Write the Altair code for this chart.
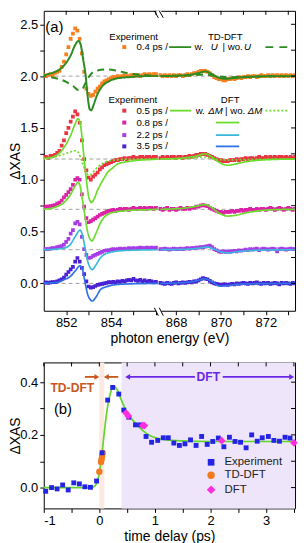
import altair as alt
import pandas as pd

FONT = "Liberation Sans"

# ====================== panel (a) data ======================
E_LEFT = [850.8, 850.9, 851.0, 851.1, 851.2, 851.3, 851.4, 851.5, 851.6, 851.7,
          851.8, 851.9, 852.0, 852.1, 852.2, 852.3, 852.4, 852.5, 852.6, 852.7,
          852.8, 852.9, 853.0, 853.1, 853.2, 853.3, 853.4, 853.5, 853.6, 853.7,
          853.8, 853.9, 854.0, 854.1, 854.2, 854.3, 854.4, 854.5, 854.6, 854.7,
          854.8, 854.9, 855.0, 855.1, 855.2, 855.3, 855.4, 855.5, 855.6, 855.7,
          855.8, 855.9, 856.0]
E_RIGHT = [867.3, 867.4, 867.5, 867.6, 867.7, 867.8, 867.9, 868.0, 868.1, 868.2,
           868.3, 868.4, 868.5, 868.6, 868.7, 868.8, 868.9, 869.0, 869.1, 869.2,
           869.3, 869.4, 869.5, 869.6, 869.7, 869.8, 869.9, 870.0, 870.1, 870.2,
           870.3, 870.4, 870.5, 870.6, 870.7, 870.8, 870.9, 871.0, 871.1, 871.2,
           871.3, 871.4, 871.5, 871.6, 871.7, 871.8, 871.9, 872.0, 872.1, 872.2,
           872.3, 872.4, 872.5, 872.6, 872.7, 872.8, 872.9, 873.0, 873.1, 873.2,
           873.3]

A04_L = [2.00, 2.00, 2.01, 2.00, 2.01, 2.02, 2.01, 2.03, 2.04, 2.05,
         2.09, 2.14, 2.21, 2.28, 2.36, 2.41, 2.46, 2.44, 2.36, 2.22,
         2.04, 1.88, 1.83, 1.81, 1.82, 1.85, 1.88, 1.90, 1.93, 1.95,
         1.96, 1.97, 1.98, 1.99, 1.99, 2.00, 1.99, 2.00, 2.01, 2.00,
         2.00, 2.01, 2.00, 2.01, 2.01, 2.00, 2.01, 2.02, 2.01, 2.02,
         2.01, 2.02, 2.02]
A04_R = [2.01, 2.00, 2.01, 2.00, 2.01, 2.00, 2.01, 2.00, 2.01, 2.01,
         2.00, 2.01, 2.02, 2.01, 2.02, 2.03, 2.03, 2.04, 2.05, 2.05,
         2.05, 2.04, 2.03, 2.01, 1.99, 1.98, 1.97, 1.97, 1.96, 1.96,
         1.97, 1.97, 1.98, 1.97, 1.98, 1.99, 1.98, 1.99, 1.99, 2.00,
         1.99, 2.00, 2.00, 1.99, 2.00, 2.01, 2.00, 2.00, 2.01, 2.00,
         2.01, 2.00, 2.01, 2.00, 2.01, 2.00, 2.01, 2.00, 2.01, 2.00,
         2.01]
A05_L = [1.21, 1.21, 1.22, 1.22, 1.21, 1.23, 1.23, 1.24, 1.26, 1.28,
         1.33, 1.38, 1.45, 1.50, 1.56, 1.61, 1.66, 1.63, 1.55, 1.38,
         1.20, 1.09, 1.02, 1.00, 1.03, 1.05, 1.07, 1.10, 1.12, 1.14,
         1.15, 1.16, 1.17, 1.18, 1.19, 1.19, 1.20, 1.20, 1.21, 1.20,
         1.21, 1.21, 1.22, 1.21, 1.21, 1.22, 1.22, 1.21, 1.22, 1.22,
         1.21, 1.22, 1.22]
A05_R = [1.21, 1.22, 1.21, 1.22, 1.21, 1.22, 1.22, 1.21, 1.22, 1.22,
         1.21, 1.22, 1.22, 1.23, 1.22, 1.23, 1.24, 1.24, 1.25, 1.25,
         1.25, 1.24, 1.23, 1.22, 1.21, 1.20, 1.19, 1.19, 1.18, 1.18,
         1.18, 1.19, 1.19, 1.19, 1.20, 1.19, 1.20, 1.20, 1.21, 1.20,
         1.21, 1.21, 1.20, 1.21, 1.22, 1.21, 1.21, 1.22, 1.21, 1.22,
         1.21, 1.22, 1.21, 1.22, 1.22, 1.21, 1.22, 1.21, 1.22, 1.21,
         1.22]
A08_L = [0.73, 0.73, 0.73, 0.74, 0.74, 0.745, 0.75, 0.755, 0.77, 0.78,
         0.80, 0.83, 0.855, 0.88, 0.91, 0.95, 1.00, 1.015, 1.00, 0.86,
         0.74, 0.63, 0.59, 0.60, 0.615, 0.63, 0.645, 0.66, 0.67, 0.68,
         0.69, 0.70, 0.705, 0.71, 0.70, 0.71, 0.72, 0.71, 0.72, 0.72,
         0.71, 0.72, 0.73, 0.72, 0.72, 0.73, 0.72, 0.73, 0.72, 0.73,
         0.73, 0.72, 0.73]
A08_R = [0.72, 0.71, 0.72, 0.73, 0.71, 0.72, 0.72, 0.71, 0.72, 0.73,
         0.72, 0.72, 0.73, 0.72, 0.73, 0.73, 0.74, 0.74, 0.75, 0.755,
         0.75, 0.745, 0.73, 0.72, 0.71, 0.70, 0.69, 0.69, 0.68, 0.69,
         0.69, 0.69, 0.70, 0.69, 0.70, 0.70, 0.71, 0.70, 0.71, 0.71,
         0.72, 0.71, 0.71, 0.72, 0.71, 0.72, 0.72, 0.71, 0.72, 0.73,
         0.72, 0.71, 0.72, 0.73, 0.72, 0.71, 0.72, 0.73, 0.72, 0.71,
         0.72]
A22_L = [0.33, 0.33, 0.33, 0.33, 0.33, 0.335, 0.34, 0.34, 0.35, 0.355,
         0.36, 0.375, 0.40, 0.43, 0.48, 0.515, 0.58, 0.595, 0.57, 0.45,
         0.33, 0.275, 0.245, 0.25, 0.265, 0.275, 0.285, 0.295, 0.305, 0.315,
         0.32, 0.32, 0.325, 0.33, 0.325, 0.33, 0.335, 0.33, 0.335, 0.33,
         0.34, 0.335, 0.34, 0.335, 0.34, 0.345, 0.34, 0.34, 0.345, 0.34,
         0.345, 0.34, 0.345]
A22_R = [0.33, 0.33, 0.335, 0.33, 0.325, 0.33, 0.335, 0.33, 0.33, 0.335,
         0.33, 0.335, 0.34, 0.335, 0.34, 0.34, 0.345, 0.345, 0.35, 0.35,
         0.355, 0.36, 0.365, 0.35, 0.33, 0.32, 0.31, 0.305, 0.31, 0.305,
         0.31, 0.305, 0.31, 0.315, 0.31, 0.32, 0.315, 0.32, 0.325, 0.32,
         0.33, 0.325, 0.33, 0.335, 0.32, 0.33, 0.335, 0.33, 0.325, 0.33,
         0.335, 0.33, 0.31, 0.33, 0.335, 0.33, 0.325, 0.33, 0.335, 0.33,
         0.33]
A35_L = [0.005, 0.0, 0.005, 0.01, 0.005, 0.01, 0.012, 0.012, 0.02, 0.03,
         0.04, 0.055, 0.085, 0.11, 0.135, 0.16, 0.21, 0.245, 0.21, 0.15,
         0.09, 0.02, -0.03, -0.04, -0.035, -0.025, -0.015, -0.01, -0.005, 0.0,
         0.005, 0.012, 0.01, 0.015, 0.01, 0.02, 0.015, 0.025, 0.02, 0.03,
         0.035, 0.03, 0.044, 0.03, 0.025, 0.035, 0.02, 0.03, 0.015, 0.025,
         0.02, 0.01, 0.015]
A35_R = [0.005, 0.0, -0.005, 0.005, 0.0, -0.005, 0.005, 0.01, 0.0, 0.005,
         0.01, 0.005, 0.01, 0.015, 0.01, 0.02, 0.02, 0.03, 0.04, 0.05,
         0.045, 0.04, 0.025, 0.01, 0.0, -0.005, -0.01, -0.015, -0.01, -0.01,
         -0.015, -0.01, -0.005, -0.01, 0.0, -0.005, 0.0, 0.005, 0.0, -0.005,
         0.005, 0.0, 0.005, 0.01, 0.0, -0.005, 0.005, 0.0, 0.005, -0.005,
         0.0, 0.005, 0.0, -0.01, 0.005, 0.0, 0.005, 0.0, -0.005, 0.005,
         0.0]

TRACE_NAMES = ["0.4 ps", "0.5 ps", "0.8 ps", "2.2 ps", "3.5 ps"]
TRACE_COLORS = ["#f77f1e", "#ea3443", "#dc22a6", "#a83ce6", "#4a22d4"]
BASELINES = [2.0, 1.2, 0.715, 0.325, 0.0]

# theory curves (energy, value)
TDU_E = [850.8, 851.2, 851.5, 851.8, 852.0, 852.2, 852.4, 852.55, 852.65, 852.75,
         852.87, 852.95, 853.05, 853.12, 853.2, 853.4, 853.6, 853.9, 854.3, 854.8,
         855.5, 856.1,
         867.3, 868.5, 869.0, 869.3, 869.6, 869.9, 870.2, 870.5, 871.0, 871.5, 872.5, 873.3]
TDU_V = [2.0, 2.02, 2.04, 2.08, 2.13, 2.2, 2.3, 2.34, 2.3, 2.17,
         2.0, 1.82, 1.68, 1.67, 1.71, 1.83, 1.9, 1.95, 1.98, 1.99,
         2.0, 2.0,
         2.0, 2.01, 2.03, 2.045, 2.02, 1.985, 1.975, 1.98, 1.99, 1.995, 2.0, 2.0]
TDN_E = [850.8, 851.3, 851.7, 852.0, 852.3, 852.55, 852.7, 852.85, 853.0, 853.15,
         853.4, 853.8, 854.2, 854.6, 855.0, 855.5, 856.1,
         867.3, 868.5, 869.3, 869.8, 870.3, 871.2, 873.3]
TDN_V = [2.0, 1.99, 1.97, 1.945, 1.905, 1.865, 1.87, 1.93, 1.99, 2.03,
         2.055, 2.065, 2.055, 2.035, 2.02, 2.01, 2.0,
         2.0, 2.005, 2.015, 2.0, 1.99, 1.995, 2.0]
D05_E = [850.8, 851.2, 851.6, 851.9, 852.2, 852.4, 852.53, 852.62, 852.7, 852.8,
         852.9, 853.0, 853.13, 853.25, 853.4, 853.54, 853.7, 853.84, 854.05, 854.28,
         854.6, 854.87, 855.3, 855.76, 856.1,
         867.3, 868.3, 868.9, 869.3, 869.6, 869.9, 870.3, 870.6, 871.0, 871.5, 872.2, 873.3]
D05_V = [1.205, 1.21, 1.24, 1.31, 1.43, 1.54, 1.59, 1.55, 1.42, 1.2,
         1.0, 0.84, 0.78, 0.82, 0.9, 0.96, 1.02, 1.07, 1.11, 1.15,
         1.17, 1.18, 1.19, 1.195, 1.2,
         1.2, 1.21, 1.23, 1.25, 1.22, 1.17, 1.14, 1.15, 1.17, 1.185, 1.195, 1.2]
D05N_E = [850.8, 851.3, 851.6, 852.0, 852.3, 852.43, 852.55, 852.7, 852.85, 853.0,
          853.1, 853.3, 853.5, 853.8, 854.2, 854.8, 856.1,
          867.3, 868.5, 869.2, 869.6, 870.2, 871.0, 873.3]
D05N_V = [1.2, 1.21, 1.225, 1.255, 1.275, 1.28, 1.26, 1.18, 1.09, 1.045,
          1.05, 1.1, 1.14, 1.175, 1.19, 1.2, 1.2,
          1.2, 1.205, 1.22, 1.205, 1.19, 1.195, 1.2]
D08_E = [850.8, 851.2, 851.5, 851.9, 852.2, 852.4, 852.53, 852.62, 852.7, 852.8,
         852.9, 853.0, 853.15, 853.3, 853.54, 853.7, 853.9, 854.2, 854.58, 855.0,
         855.47, 856.1,
         867.3, 868.3, 868.9, 869.3, 869.6, 869.9, 870.3, 870.6, 871.0, 871.5, 872.2, 873.3]
D08_V = [0.715, 0.72, 0.735, 0.78, 0.86, 0.94, 0.975, 0.94, 0.84, 0.7,
         0.56, 0.46, 0.41, 0.47, 0.59, 0.64, 0.67, 0.69, 0.70, 0.707,
         0.71, 0.715,
         0.715, 0.725, 0.745, 0.76, 0.73, 0.68, 0.65, 0.655, 0.675, 0.695, 0.71, 0.715]
D22_E = [850.8, 851.3, 851.6, 851.9, 852.2, 852.4, 852.62, 852.72, 852.85, 852.95,
         853.05, 853.17, 853.3, 853.54, 853.75, 853.98, 854.3, 854.58, 855.2, 856.1,
         867.3, 868.5, 869.0, 869.4, 869.7, 870.0, 870.3, 870.7, 871.2, 872.0, 873.3]
D22_V = [0.325, 0.327, 0.332, 0.34, 0.38, 0.45, 0.514, 0.47, 0.33, 0.22,
         0.16, 0.133, 0.17, 0.25, 0.285, 0.30, 0.313, 0.317, 0.322, 0.325,
         0.325, 0.33, 0.34, 0.35, 0.33, 0.305, 0.295, 0.305, 0.315, 0.322, 0.325]
D35_E = [850.8, 851.3, 851.6, 851.9, 852.2, 852.4, 852.62, 852.72, 852.85, 852.95,
         853.05, 853.17, 853.3, 853.54, 853.75, 853.98, 854.3, 854.8, 856.1,
         867.3, 868.5, 869.0, 869.3, 869.6, 869.98, 870.3, 870.7, 871.5, 873.3]
D35_V = [0.0, 0.005, 0.01, 0.035, 0.07, 0.12, 0.17, 0.14, 0.0, -0.1,
         -0.15, -0.17, -0.14, -0.057, -0.035, -0.02, -0.01, -0.005, 0.0,
         0.0, 0.01, 0.03, 0.045, 0.015, -0.026, -0.02, -0.01, -0.003, 0.0]

# ====================== panel (b) data ======================
T_EXP = [-0.965, -0.86, -0.76, -0.66, -0.56, -0.46, -0.36, -0.26, -0.16, -0.05,
         0.05, 0.15, 0.24, 0.35, 0.44, 0.53, 0.65, 0.74, 0.84, 0.94,
         1.05, 1.15, 1.24, 1.34, 1.44, 1.54, 1.64, 1.74, 1.84, 1.94,
         2.04, 2.14, 2.24, 2.34, 2.44, 2.54, 2.64, 2.74, 2.84, 2.93,
         3.04, 3.14, 3.24, 3.34, 3.43]
V_EXP = [-0.014, 0.0, -0.005, 0.01, -0.009, 0.018, 0.014, 0.003, 0.001, 0.025,
         0.132, 0.332, 0.38, 0.355, 0.294, 0.267, 0.238, 0.238, 0.194, 0.172,
         0.179, 0.189, 0.189, 0.169, 0.16, 0.166, 0.181, 0.16, 0.194, 0.164,
         0.175, 0.188, 0.155, 0.191, 0.175, 0.172, 0.151, 0.2, 0.176, 0.189,
         0.194, 0.179, 0.176, 0.191, 0.188]
T_FIT = [-1.0, -0.15, -0.1, -0.05, 0.0, 0.05, 0.1, 0.15, 0.2, 0.26, 0.32, 0.4,
         0.5, 0.6, 0.7, 0.8, 0.9, 1.0, 1.2, 1.5, 2.0, 3.52]
V_FIT = [0.0, 0.0, 0.003, 0.015, 0.055, 0.135, 0.23, 0.31, 0.36, 0.384, 0.372, 0.33,
         0.285, 0.256, 0.233, 0.213, 0.199, 0.19, 0.181, 0.177, 0.175, 0.175]
T_TDDFT = [0.0, 0.03, 0.04, 0.05, 0.06]
V_TDDFT = [0.06, 0.097, 0.108, 0.12, 0.131]
T_DFT = [0.48, 0.52, 0.78, 0.81, 2.2, 3.5]
V_DFT = [0.283, 0.272, 0.236, 0.235, 0.178, 0.17]
BAND_T0 = [0.0, 0.4]
BAND_T1 = [0.09, 3.52]
BAND_COLORS = ["#fbe9e2", "#efe5fb"]

# ====================== layout constants ======================
GAP = 11.1                      # energy removed by the axis break
BREAK_X = 856.15
XA_DOM = [851.0, 862.2]
YA_DOM = [-0.264, 2.63]
XB_DOM = [-1.0, 3.52]
YB_DOM = [-0.079, 0.475]
W = 253
HA = 302
HB = 147
TICK = 4


def to_plot(e):
    return e - GAP if e > 860 else e


XA = alt.Scale(domain=XA_DOM, nice=False, zero=False)
YA = alt.Scale(domain=YA_DOM, nice=False, zero=False)
XB = alt.Scale(domain=XB_DOM, nice=False, zero=False)
YB = alt.Scale(domain=YB_DOM, nice=False, zero=False)


def xa(axis=None, f="x"):
    return alt.X(f + ":Q", scale=XA, axis=axis)


def ya(axis=None, f="y"):
    return alt.Y(f + ":Q", scale=YA, axis=axis)


def xb(axis=None, f="x"):
    return alt.X(f + ":Q", scale=XB, axis=axis)


def yb(axis=None, f="y"):
    return alt.Y(f + ":Q", scale=YB, axis=axis)


def inner_ticks(xvals, yvals, xdom, ydom, w, h, xf, yf):
    """top and right tick marks, drawn inward, derived from the tick values"""
    px, py = (xdom[1] - xdom[0]) / w, (ydom[1] - ydom[0]) / h
    rows = [{"x": v, "x2": v, "y": ydom[1], "y2": ydom[1] - TICK * py} for v in xvals]
    rows += [{"x": xdom[1], "x2": xdom[1] - TICK * px, "y": v, "y2": v} for v in yvals]
    return alt.Chart(pd.DataFrame(rows)).mark_rule(color="black", strokeWidth=1).encode(
        x=xf(), x2="x2:Q", y=yf(), y2="y2:Q")


# ---- experiment table (a)
rows = []
for name, col, L, R in zip(TRACE_NAMES, TRACE_COLORS,
                           [A04_L, A05_L, A08_L, A22_L, A35_L],
                           [A04_R, A05_R, A08_R, A22_R, A35_R]):
    assert len(L) == len(E_LEFT) and len(R) == len(E_RIGHT)
    for e, v in zip(E_LEFT + E_RIGHT, L + R):
        rows.append({"x": to_plot(e), "y": v, "c": col})
exp_a = pd.DataFrame(rows)

# ---- theory table (a)
CURVES = [
    ("tdu", TDU_E, TDU_V, "#2e8a22", "solid"),
    ("tdn", TDN_E, TDN_V, "#2e8a22", "dash"),
    ("d05", D05_E, D05_V, "#6cdc2c", "solid"),
    ("d05n", D05N_E, D05N_V, "#6cdc2c", "dot"),
    ("d08", D08_E, D08_V, "#6cdc2c", "solid"),
    ("d22", D22_E, D22_V, "#3cb8da", "solid"),
    ("d35", D35_E, D35_V, "#2f72e6", "solid"),
]
trows = []
for key, es, vs, col, sty in CURVES:
    assert len(es) == len(vs)
    for e, v in zip(es, vs):
        seg = "L" if e < 860 else "R"
        trows.append({"x": to_plot(e), "y": v, "c": col, "k": key + seg, "s": sty,
                      "w": 2.0 if key.startswith("td") else 1.7})
th_a = pd.DataFrame(trows)

# ---- axis tick values (a)
XT_A = [to_plot(e) for e in [852, 853, 854, 855, 856, 868, 869, 870, 871, 872, 873]]
XL_A = [852, 854, 868, 870, 872]
lab_expr_a = "".join(f"abs(datum.value - {to_plot(e)}) < 0.01 ? '{e}' : " for e in XL_A) + "''"
YT_A = [0.0, 0.25, 0.5, 0.75, 1.0, 1.25, 1.5, 1.75, 2.0, 2.25, 2.5]

base_a = alt.Chart(pd.DataFrame({"y": BASELINES})).mark_rule(
    color="#a0a0a0", strokeDash=[4, 3], strokeWidth=1
).encode(y=ya())

sq_a = alt.Chart(exp_a).mark_square(size=14, opacity=1, clip=True).encode(
    x=xa(alt.Axis(values=XT_A, labelExpr=lab_expr_a, title="photon energy (eV)")),
    y=ya(alt.Axis(values=YT_A, title="ΔXAS",
                  labelExpr="(round(datum.value*4) % 2 == 0) ? format(datum.value, '.1f') : ''")),
    color=alt.Color("c:N", scale=None),
)


def theory_layer(sty, dash):
    d = th_a[th_a["s"] == sty]
    m = alt.Chart(d).mark_line(interpolate="monotone", clip=True, strokeDash=dash)
    return m.encode(x=xa(), y=ya(), color=alt.Color("c:N", scale=None),
                    detail="k:N", strokeWidth=alt.StrokeWidth("w:Q", scale=None))


lines_solid = theory_layer("solid", [1, 0])
lines_dash = theory_layer("dash", [7, 5])
lines_dot = theory_layer("dot", [2, 2])

ticks_a = inner_ticks(XT_A, YT_A, XA_DOM, YA_DOM, W, HA, xa, ya)

# legend of (a)
R1, R2, R3, R4, R5, R6, R7 = 2.38, 2.28, 1.768, 1.667, 1.552, 1.431, 1.322
leg_txt_left = pd.DataFrame([
    ("Experiment", 853.92, R1), ("0.4 ps /", 855.13, R2), ("w.", 857.72, R2), ("wo.", 859.20, R2),
    ("Experiment", 853.89, R3), ("0.5 ps /", 855.13, R4), ("w.", 857.77, R4), ("wo.", 859.31, R4),
    ("0.8 ps /", 855.13, R5), ("2.2 ps /", 855.13, R6), ("3.5 ps /", 855.13, R7),
], columns=["t", "x", "y"])
leg_txt_ital = pd.DataFrame([
    ("U", 858.44, R2), ("U", 859.93, R2), ("ΔM", 858.33, R4), ("ΔM", 860.09, R4),
], columns=["t", "x", "y"])
leg_txt_center = pd.DataFrame([
    ("TD-DFT", 859.09, R1), ("|", 859.02, R2), ("DFT", 859.31, R3), ("|", 859.13, R4),
], columns=["t", "x", "y"])
leg_sq = pd.DataFrame({"x": [854.59] * 5, "y": [R2, R4, R5, R6, R7], "c": TRACE_COLORS})
leg_solid = pd.DataFrame({
    "x": [856.59, 856.62, 858.67, 858.67, 858.67],
    "x2": [857.57, 857.57, 859.71, 859.71, 859.71],
    "y": [R2, R4, R5, R6, R7],
    "c": ["#2e8a22", "#6cdc2c", "#6cdc2c", "#3cb8da", "#2f72e6"],
})
leg_dash = pd.DataFrame({"x": [860.88], "x2": [861.92], "y": [R2], "c": ["#2e8a22"]})
leg_dot = pd.DataFrame({"x": [860.88], "x2": [861.92], "y": [R4], "c": ["#6cdc2c"]})

TXT_A = dict(font=FONT, fontSize=9.7, baseline="middle", color="black")
l_t1 = alt.Chart(leg_txt_left).mark_text(align="left", **TXT_A).encode(x=xa(), y=ya(), text="t:N")
l_t2 = alt.Chart(leg_txt_ital).mark_text(align="left", fontStyle="italic", **TXT_A).encode(
    x=xa(), y=ya(), text="t:N")
l_t3 = alt.Chart(leg_txt_center).mark_text(align="center", **TXT_A).encode(x=xa(), y=ya(), text="t:N")
l_sq = alt.Chart(leg_sq).mark_square(size=16, opacity=1).encode(
    x=xa(), y=ya(), color=alt.Color("c:N", scale=None))
l_solid = alt.Chart(leg_solid).mark_rule(strokeWidth=1.8).encode(
    x=xa(), x2="x2:Q", y=ya(), color=alt.Color("c:N", scale=None))
l_dash = alt.Chart(leg_dash).mark_rule(strokeWidth=1.8, strokeDash=[8, 6]).encode(
    x=xa(), x2="x2:Q", y=ya(), color=alt.Color("c:N", scale=None))
l_dot = alt.Chart(leg_dot).mark_rule(strokeWidth=1.6, strokeDash=[2, 2]).encode(
    x=xa(), x2="x2:Q", y=ya(), color=alt.Color("c:N", scale=None))

label_a = alt.Chart(pd.DataFrame({"x": [851.47], "y": [2.47], "t": ["(a)"]})).mark_text(
    font=FONT, fontSize=15, align="center", baseline="middle", color="black"
).encode(x=xa(), y=ya(), text="t:N")

# axis break marks
PXX = (XA_DOM[1] - XA_DOM[0]) / W
PXY = (YA_DOM[1] - YA_DOM[0]) / HA
brk_rect = pd.DataFrame({
    "x": [BREAK_X - 3 * PXX] * 2, "x2": [BREAK_X + 2 * PXX] * 2,
    "y": [YA_DOM[1], YA_DOM[0] + 1.5 * PXY],
    "y2": [YA_DOM[1] - 1.5 * PXY, YA_DOM[0] - 1.5 * PXY],
})
brk_lines = []
for yedge, sgn in [(YA_DOM[1], -1), (YA_DOM[0], 1)]:
    for dx in (-3, 2):
        if sgn == -1:
            brk_lines.append({"x": BREAK_X + (dx - 2) * PXX, "y": yedge,
                              "x2": BREAK_X + (dx + 2) * PXX, "y2": yedge - 7 * PXY})
        else:
            brk_lines.append({"x": BREAK_X + (dx - 2) * PXX, "y": yedge + 3 * PXY,
                              "x2": BREAK_X + (dx + 2) * PXX, "y2": yedge - 5 * PXY})
brk_r = alt.Chart(brk_rect).mark_rect(color="white").encode(x=xa(), x2="x2:Q", y=ya(), y2="y2:Q")
brk_l = alt.Chart(pd.DataFrame(brk_lines)).mark_rule(color="black", strokeWidth=1).encode(
    x=xa(), x2="x2:Q", y=ya(), y2="y2:Q")

panel_a = alt.layer(
    base_a, sq_a, lines_solid, lines_dash, lines_dot, ticks_a,
    l_sq, l_solid, l_dash, l_dot, l_t1, l_t2, l_t3, label_a, brk_r, brk_l
).resolve_axis(x="independent", y="independent").properties(width=W, height=HA)

# ====================== panel (b) ======================
XT_B = [-1.0, -0.5, 0.0, 0.5, 1.0, 1.5, 2.0, 2.5, 3.0, 3.5]
YT_B = [0.0, 0.1, 0.2, 0.3, 0.4]

bands = alt.Chart(pd.DataFrame({"x": BAND_T0, "x2": BAND_T1, "c": BAND_COLORS,
                                "y": [YB_DOM[0]] * 2, "y2": [YB_DOM[1]] * 2})).mark_rect(
    opacity=1).encode(x=xb(), x2="x2:Q", y=yb(), y2="y2:Q", color=alt.Color("c:N", scale=None))

fit = alt.Chart(pd.DataFrame({"x": T_FIT, "y": V_FIT})).mark_line(
    color="#62d62a", strokeWidth=1.7, interpolate="monotone").encode(x=xb(), y=yb())

circ = alt.Chart(pd.DataFrame({"x": T_TDDFT, "y": V_TDDFT})).mark_circle(
    size=42, color="#f47a1e", opacity=1).encode(x=xb(), y=yb())

sq_b = alt.Chart(pd.DataFrame({"x": T_EXP, "y": V_EXP})).mark_square(
    size=24, color="#2424e4", opacity=1).encode(
    x=xb(alt.Axis(values=XT_B, title="time delay (ps)",
                  labelExpr="(round(datum.value*2) % 2 == 0) ? '' + datum.value : ''")),
    y=yb(alt.Axis(values=YT_B, title="ΔXAS",
                  labelExpr="(round(datum.value*10) % 2 == 0) ? format(datum.value, '.1f') : ''")),
)

diam = alt.Chart(pd.DataFrame({"x": T_DFT, "y": V_DFT})).mark_point(
    shape="diamond", filled=True, size=60, color="#ff2de0", opacity=1).encode(x=xb(), y=yb())

ticks_b = inner_ticks(XT_B, YT_B, XB_DOM, YB_DOM, W, HB, xb, yb)

TD_COL = "#c9561f"
DFT_COL = "#6a28e6"
AY = 0.42
shafts = pd.DataFrame({
    "x": [-0.26, 0.14, 0.53, 2.22],
    "x2": [-0.06, 0.34, 1.72, 3.44],
    "y": [AY] * 4,
    "c": [TD_COL, TD_COL, DFT_COL, DFT_COL],
})
ar_shaft = alt.Chart(shafts).mark_rule(strokeWidth=1.8).encode(
    x=xb(), x2="x2:Q", y=yb(), color=alt.Color("c:N", scale=None))
heads_r = pd.DataFrame({"x": [-0.045, 3.46], "y": [AY, AY], "c": [TD_COL, DFT_COL]})
heads_l = pd.DataFrame({"x": [0.125, 0.51], "y": [AY, AY], "c": [TD_COL, DFT_COL]})
ar_hr = alt.Chart(heads_r).mark_point(shape="triangle-right", filled=True, size=32, opacity=1).encode(
    x=xb(), y=yb(), color=alt.Color("c:N", scale=None))
ar_hl = alt.Chart(heads_l).mark_point(shape="triangle-left", filled=True, size=32, opacity=1).encode(
    x=xb(), y=yb(), color=alt.Color("c:N", scale=None))

bold_txt = pd.DataFrame({"x": [-0.486, 1.96], "y": [0.376, AY], "t": ["TD-DFT", "DFT"],
                         "c": [TD_COL, DFT_COL]})
t_bold = alt.Chart(bold_txt).mark_text(font=FONT, fontSize=12.2, fontWeight="bold",
                                       align="center", baseline="middle").encode(
    x=xb(), y=yb(), text="t:N", color=alt.Color("c:N", scale=None))
label_b = alt.Chart(pd.DataFrame({"x": [-0.654], "y": [0.298], "t": ["(b)"]})).mark_text(
    font=FONT, fontSize=15, align="center", baseline="middle", color="black"
).encode(x=xb(), y=yb(), text="t:N")

LB_X, LB_TX = 2.01, 2.25
LB_Y = [0.096, 0.047, -0.008]
lb_sq = alt.Chart(pd.DataFrame({"x": [LB_X], "y": [LB_Y[0]]})).mark_square(
    size=45, color="#2424e4", opacity=1).encode(x=xb(), y=yb())
lb_ci = alt.Chart(pd.DataFrame({"x": [LB_X], "y": [LB_Y[1]]})).mark_circle(
    size=55, color="#f47a1e", opacity=1).encode(x=xb(), y=yb())
lb_di = alt.Chart(pd.DataFrame({"x": [LB_X], "y": [LB_Y[2]]})).mark_point(
    shape="diamond", filled=True, size=75, color="#ff2de0", opacity=1).encode(x=xb(), y=yb())
lb_tx = alt.Chart(pd.DataFrame({"x": [LB_TX] * 3, "y": LB_Y,
                                "t": ["Experiment", "TD-DFT", "DFT"]})).mark_text(
    font=FONT, fontSize=11.5, align="left", baseline="middle", color="#222222"
).encode(x=xb(), y=yb(), text="t:N")

panel_b = alt.layer(
    bands, fit, circ, sq_b, diam, ticks_b, ar_shaft, ar_hr, ar_hl, t_bold, label_b,
    lb_sq, lb_ci, lb_di, lb_tx
).resolve_axis(x="independent", y="independent").properties(width=W, height=HB)

chart = alt.vconcat(panel_a, panel_b, spacing=15).properties(
    padding={"left": 0, "top": 0, "right": 0, "bottom": 0}
).configure(font=FONT).configure_view(
    stroke="black", strokeWidth=1
).configure_axis(
    grid=False, domain=False, tickColor="black", labelColor="black", titleColor="black",
    labelFont=FONT, titleFont=FONT, labelFontSize=13, titleFontSize=14,
    titleFontWeight="normal", tickSize=4, tickWidth=1
).configure_axisX(labelPadding=2, titlePadding=2).configure_axisY(
    labelPadding=2, titlePadding=-3, minExtent=0)

chart.save("out.html", embed_options={"renderer": "svg", "actions": False})
